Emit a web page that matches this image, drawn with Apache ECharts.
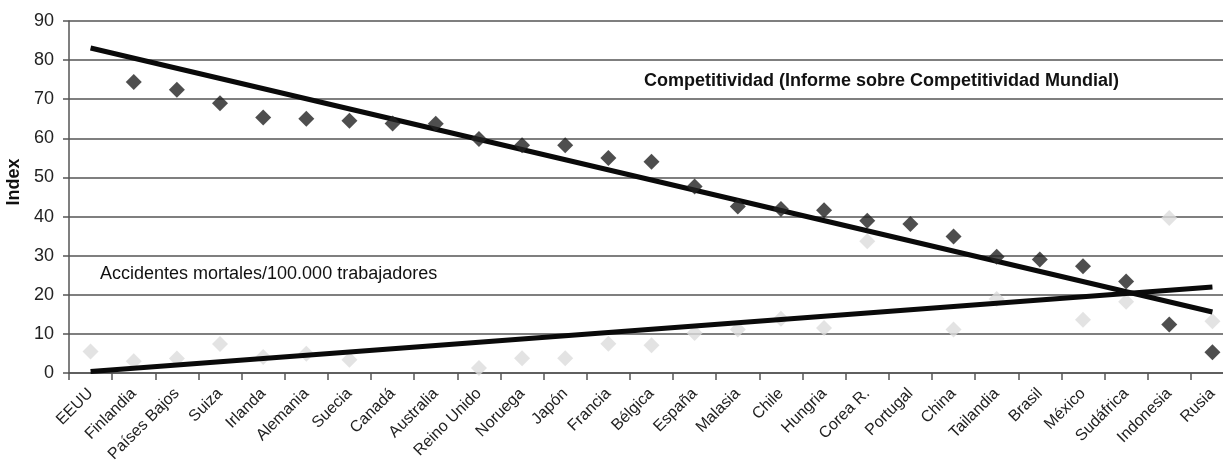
<!DOCTYPE html>
<html><head><meta charset="utf-8">
<script src="https://cdn.jsdelivr.net/npm/echarts@6/dist/echarts.min.js"></script>
<style>html,body{margin:0;padding:0;background:#fff;overflow:hidden}#c{width:1223px;height:461px}</style>
</head><body><div id="c"></div>
<script>
const categories = ["EEUU","Finlandia","Países Bajos","Suiza","Irlanda","Alemania","Suecia","Canadá","Australia","Reino Unido","Noruega","Japón","Francia","Bélgica","España","Malasia","Chile","Hungria","Corea R.","Portugal","China","Tailandia","Brasil","México","Sudáfrica","Indonesia","Rusia"];
const competitividad = [null,74.4,72.4,69.0,65.3,65.0,64.5,63.8,63.7,59.8,58.2,58.2,55.0,54.0,47.7,42.6,41.9,41.6,38.9,38.1,34.9,29.7,29.0,27.3,23.4,12.4,5.3];
const accidentes = [5.5,3.0,3.7,7.4,4.1,4.9,3.4,null,null,1.3,3.8,3.8,7.5,7.1,10.2,11.1,13.9,11.5,33.7,null,11.1,18.9,null,13.6,18.2,39.6,13.2];
const trendCompetitividad = [83.1, 15.6];
const trendAccidentes = [0.4, 22.0];
const yTicks = {min:0, max:90, interval:10};
const labelCompetitividad = "Competitividad (Informe sobre Competitividad Mundial)";
const labelAccidentes = "Accidentes mortales/100.000 trabajadores";

function trendSeries(ends){
  return categories.map((c,i)=> i===0 ? ends[0] : (i===categories.length-1 ? ends[1] : null));
}
const font = "'Liberation Sans',Arial,sans-serif";
const chart = echarts.init(document.getElementById('c'), null, {renderer:'canvas'});
chart.setOption({
  animation:false,
  backgroundColor:'#fff',
  grid:{left:69,right:-11,top:21,bottom:88,containLabel:false,outerBoundsMode:'none'},
  xAxis:{type:'category',data:categories,boundaryGap:true,
    axisLine:{show:true,lineStyle:{color:'#555',width:1.5}},
    axisTick:{show:true,length:7,lineStyle:{color:'#555',width:1.5}},
    axisLabel:{rotate:45,interval:0,fontSize:16,color:'#222',fontFamily:font,margin:18}},
  yAxis:{type:'value',min:yTicks.min,max:yTicks.max,interval:yTicks.interval,
    name:'Index',nameLocation:'middle',nameGap:26,nameRotate:90,
    nameTextStyle:{fontSize:18,fontWeight:'bold',color:'#111',fontFamily:font,padding:[0,0,0,30]},
    axisLine:{show:true,lineStyle:{color:'#555',width:1.5}},
    axisTick:{show:true,length:6,lineStyle:{color:'#555',width:1.5}},
    axisLabel:{fontSize:18,color:'#222',fontFamily:font,margin:15},
    splitLine:{show:true,lineStyle:{color:'#555',width:1.5}}},
  series:[
    {type:'line',data:trendSeries(trendCompetitividad),connectNulls:true,symbol:'none',
      lineStyle:{color:'#0a0a0a',width:5},z:3},
    {type:'line',data:trendSeries(trendAccidentes),connectNulls:true,symbol:'none',
      lineStyle:{color:'#0a0a0a',width:5},z:3},
    {type:'scatter',data:accidentes,symbol:'diamond',symbolSize:[16,16],
      itemStyle:{color:'#dcdcdc'},z:2},
    {type:'scatter',data:competitividad,symbol:'diamond',symbolSize:[16,16],
      itemStyle:{color:'#222'},z:4}
  ],
  graphic:[
    {type:'text',left:644,top:72,style:{text:labelCompetitividad,fontSize:18,fontWeight:'bold',fill:'#111',fontFamily:font}},
    {type:'text',left:100,top:265,style:{text:labelAccidentes,fontSize:18,fill:'#111',fontFamily:font}}
  ]
});
</script></body></html>
